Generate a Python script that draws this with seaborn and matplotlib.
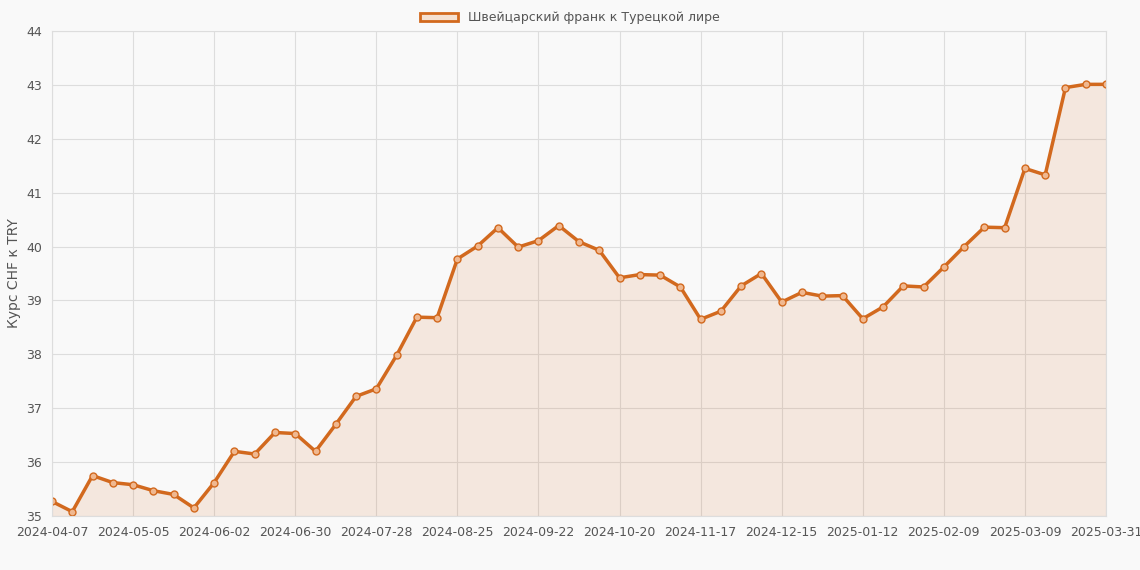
import matplotlib
matplotlib.use("Agg")
import matplotlib.pyplot as plt
import seaborn as sns
import pandas as pd

values = [35.27,35.08,35.75,35.62,35.58,35.47,35.40,35.15,35.62,36.20,36.15,36.55,36.53,36.20,
          36.70,37.22,37.36,37.98,38.69,38.68,39.77,40.01,40.35,39.99,40.11,40.39,40.09,39.93,
          39.42,39.48,39.47,39.25,38.65,38.80,39.27,39.50,38.97,39.15,39.08,39.09,38.66,38.88,
          39.27,39.25,39.62,40.00,40.36,40.35,41.45,41.33,42.95,43.01,43.01]
tick_pos = [0,4,8,12,16,20,24,28,32,36,40,44,48,52]
tick_labels = ["2024-04-07","2024-05-05","2024-06-02","2024-06-30","2024-07-28","2024-08-25",
               "2024-09-22","2024-10-20","2024-11-17","2024-12-15","2025-01-12","2025-02-09",
               "2025-03-09","2025-03-31"]
series = "Швейцарский франк к Турецкой лире"
color = "#d2691e"

df = pd.DataFrame({"i": range(len(values)), "v": values})
sns.set_style("whitegrid")
fig = plt.figure(figsize=(11.4, 5.7), dpi=100, facecolor="#f9f9f9")
ax = fig.add_axes([52/1140, 1-516/570, (1106-52)/1140, (516-31)/570])
ax.set_facecolor("#f9f9f9")
ax.fill_between(df["i"], df["v"], 35, color=color, alpha=0.12, lw=0)
sns.lineplot(data=df, x="i", y="v", ax=ax, color=color, lw=2.5, marker="o", markersize=5,
             markerfacecolor="#f0b890", markeredgecolor=color, markeredgewidth=1)
ax.set_xlim(0, len(values)-1)
ax.set_ylim(35, 44)
ax.set_xticks(tick_pos)
ax.set_xticklabels(tick_labels, fontsize=9, color="#555")
ax.set_yticks(range(35, 45))
ax.tick_params(axis="y", labelsize=9, labelcolor="#555")
ax.set_xlabel("")
ax.set_ylabel("Курс CHF к TRY", fontsize=10, color="#555")
ax.grid(True, color="#dddddd", lw=0.8)
for s in ax.spines.values():
    s.set_color("#dddddd")
from matplotlib.patches import Patch
fig.legend(handles=[Patch(facecolor="#f5e1d2", edgecolor=color, lw=2, label=series)],
           loc="upper center", bbox_to_anchor=(0.5, 1.0), frameon=False, fontsize=9,
           labelcolor="#555", handlelength=3)
fig.savefig("out.png", dpi=100, facecolor=fig.get_facecolor())
